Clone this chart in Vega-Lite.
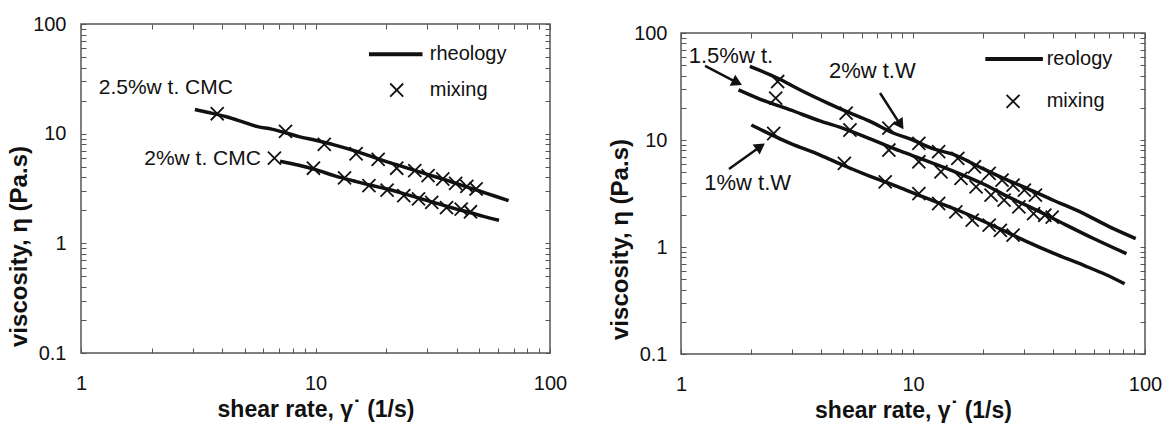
{
  "$schema": "https://vega.github.io/schema/vega-lite/v6.json",
  "padding": {"left": 6, "top": 13, "right": 0, "bottom": 0},
  "spacing": 39,
  "datasets": {
    "leftCurves": [
      {"series": "2.5%", "x": 3.06, "y": 16.6}, {"series": "2.5%", "x": 3.5, "y": 15.6}, {"series": "2.5%", "x": 4.2, "y": 14.2},
      {"series": "2.5%", "x": 5, "y": 12.6}, {"series": "2.5%", "x": 5.67, "y": 11.6}, {"series": "2.5%", "x": 6.5, "y": 11.0},
      {"series": "2.5%", "x": 7.45, "y": 10.2}, {"series": "2.5%", "x": 8.5, "y": 9.4}, {"series": "2.5%", "x": 10, "y": 8.7},
      {"series": "2.5%", "x": 12, "y": 7.9}, {"series": "2.5%", "x": 14.6, "y": 7.0}, {"series": "2.5%", "x": 18.5, "y": 5.9},
      {"series": "2.5%", "x": 24.3, "y": 4.9}, {"series": "2.5%", "x": 30, "y": 4.25}, {"series": "2.5%", "x": 35, "y": 3.85},
      {"series": "2.5%", "x": 41.8, "y": 3.4}, {"series": "2.5%", "x": 50, "y": 3.0}, {"series": "2.5%", "x": 58, "y": 2.7},
      {"series": "2.5%", "x": 66.6, "y": 2.45},
      {"series": "2%", "x": 7.06, "y": 5.61}, {"series": "2%", "x": 8.5, "y": 5.15}, {"series": "2%", "x": 10, "y": 4.7},
      {"series": "2%", "x": 12, "y": 4.15}, {"series": "2%", "x": 14.6, "y": 3.7}, {"series": "2%", "x": 17, "y": 3.4},
      {"series": "2%", "x": 20.2, "y": 3.13}, {"series": "2%", "x": 25, "y": 2.75}, {"series": "2%", "x": 30, "y": 2.45},
      {"series": "2%", "x": 34.9, "y": 2.23}, {"series": "2%", "x": 40, "y": 2.05}, {"series": "2%", "x": 45, "y": 1.92},
      {"series": "2%", "x": 52, "y": 1.76}, {"series": "2%", "x": 60.6, "y": 1.62}
    ],
    "leftMarks": [
      {"series": "2.5%", "x": 3.81, "y": 15.2}, {"series": "2.5%", "x": 7.45, "y": 10.5}, {"series": "2.5%", "x": 10.9, "y": 8.0},
      {"series": "2.5%", "x": 14.9, "y": 6.56}, {"series": "2.5%", "x": 18.5, "y": 5.82}, {"series": "2.5%", "x": 22.2, "y": 4.84},
      {"series": "2.5%", "x": 26.5, "y": 4.6}, {"series": "2.5%", "x": 30.2, "y": 4.15}, {"series": "2.5%", "x": 34.9, "y": 3.86},
      {"series": "2.5%", "x": 39.6, "y": 3.52}, {"series": "2.5%", "x": 44.2, "y": 3.31}, {"series": "2.5%", "x": 48.4, "y": 3.13},
      {"series": "2%", "x": 6.68, "y": 5.98}, {"series": "2%", "x": 9.8, "y": 4.84}, {"series": "2%", "x": 13.3, "y": 3.95},
      {"series": "2%", "x": 16.9, "y": 3.36}, {"series": "2%", "x": 20.2, "y": 3.06}, {"series": "2%", "x": 23.8, "y": 2.72},
      {"series": "2%", "x": 27.5, "y": 2.54}, {"series": "2%", "x": 31.3, "y": 2.36}, {"series": "2%", "x": 36.2, "y": 2.12},
      {"series": "2%", "x": 41.8, "y": 2.05}, {"series": "2%", "x": 45.8, "y": 1.94}
    ],
    "leftLabels": [
      {"x": 1.19, "y": 26.1, "text": "2.5%w t. CMC"},
      {"x": 1.86, "y": 5.87, "text": "2%w t. CMC"}
    ],
    "leftLegendText": [
      {"x": 30.7, "y": 53.1, "text": "rheology"},
      {"x": 30.7, "y": 25.0, "text": "mixing"}
    ],
    "leftLegendLine": [{"x": 16.9, "x2": 28.6, "y": 53.1}],
    "leftLegendMark": [{"x": 22.2, "y": 25.0}],
    "rightCurves": [
      {"series": "2W", "x": 1.98, "y": 48.7}, {"series": "2W", "x": 2.6, "y": 38}, {"series": "2W", "x": 3.3, "y": 29},
      {"series": "2W", "x": 4.29, "y": 22.1}, {"series": "2W", "x": 5.15, "y": 18.5}, {"series": "2W", "x": 6.5, "y": 15},
      {"series": "2W", "x": 8.32, "y": 11.5}, {"series": "2W", "x": 10, "y": 10}, {"series": "2W", "x": 12, "y": 8.4},
      {"series": "2W", "x": 15, "y": 7.3}, {"series": "2W", "x": 20, "y": 5.4}, {"series": "2W", "x": 25, "y": 4.3},
      {"series": "2W", "x": 31.3, "y": 3.5}, {"series": "2W", "x": 40, "y": 2.75}, {"series": "2W", "x": 54.5, "y": 2.05},
      {"series": "2W", "x": 70, "y": 1.55}, {"series": "2W", "x": 91.2, "y": 1.2},
      {"series": "1.5W", "x": 1.77, "y": 29.4}, {"series": "1.5W", "x": 2.2, "y": 24}, {"series": "1.5W", "x": 2.96, "y": 19.1},
      {"series": "1.5W", "x": 4, "y": 15}, {"series": "1.5W", "x": 4.97, "y": 12.9}, {"series": "1.5W", "x": 6.5, "y": 10.3},
      {"series": "1.5W", "x": 8.79, "y": 7.9}, {"series": "1.5W", "x": 11, "y": 6.6}, {"series": "1.5W", "x": 15, "y": 5.1},
      {"series": "1.5W", "x": 20, "y": 3.9}, {"series": "1.5W", "x": 26.1, "y": 2.9}, {"series": "1.5W", "x": 35, "y": 2.15},
      {"series": "1.5W", "x": 45.3, "y": 1.62}, {"series": "1.5W", "x": 60, "y": 1.2}, {"series": "1.5W", "x": 83.2, "y": 0.866},
      {"series": "1W", "x": 2.01, "y": 13.8}, {"series": "1W", "x": 2.96, "y": 9.3}, {"series": "1W", "x": 4, "y": 7.2},
      {"series": "1W", "x": 4.97, "y": 5.84}, {"series": "1W", "x": 6.5, "y": 4.6}, {"series": "1W", "x": 8.63, "y": 3.65},
      {"series": "1W", "x": 11, "y": 2.95}, {"series": "1W", "x": 15, "y": 2.29}, {"series": "1W", "x": 20, "y": 1.75},
      {"series": "1W", "x": 25, "y": 1.4}, {"series": "1W", "x": 31.3, "y": 1.11}, {"series": "1W", "x": 40, "y": 0.88},
      {"series": "1W", "x": 54.5, "y": 0.673}, {"series": "1W", "x": 68, "y": 0.55}, {"series": "1W", "x": 81.7, "y": 0.453}
    ],
    "rightMarks": [
      {"series": "2W", "x": 2.61, "y": 35.2}, {"series": "2W", "x": 5.15, "y": 17.8}, {"series": "2W", "x": 7.87, "y": 12.9},
      {"series": "2W", "x": 10.6, "y": 9.3}, {"series": "2W", "x": 12.9, "y": 7.78}, {"series": "2W", "x": 15.6, "y": 6.73},
      {"series": "2W", "x": 18.4, "y": 5.62}, {"series": "2W", "x": 21.3, "y": 4.87}, {"series": "2W", "x": 24.2, "y": 4.22},
      {"series": "2W", "x": 27, "y": 3.79}, {"series": "2W", "x": 30.2, "y": 3.4}, {"series": "2W", "x": 33.7, "y": 3.05},
      {"series": "1.5W", "x": 2.56, "y": 24.6}, {"series": "1.5W", "x": 5.35, "y": 12.4}, {"series": "1.5W", "x": 7.87, "y": 8.06},
      {"series": "1.5W", "x": 10.6, "y": 6.26}, {"series": "1.5W", "x": 13.2, "y": 5.05}, {"series": "1.5W", "x": 16.1, "y": 4.37},
      {"series": "1.5W", "x": 18.7, "y": 3.65}, {"series": "1.5W", "x": 21.7, "y": 3.05}, {"series": "1.5W", "x": 24.7, "y": 2.74},
      {"series": "1.5W", "x": 28.6, "y": 2.37}, {"series": "1.5W", "x": 33.1, "y": 2.05}, {"series": "1.5W", "x": 37, "y": 1.98},
      {"series": "1.5W", "x": 39.8, "y": 1.9},
      {"series": "1W", "x": 2.51, "y": 11.5}, {"series": "1W", "x": 5.06, "y": 6.04}, {"series": "1W", "x": 7.59, "y": 4.06},
      {"series": "1W", "x": 10.6, "y": 3.16}, {"series": "1W", "x": 12.9, "y": 2.55}, {"series": "1W", "x": 15.3, "y": 2.13},
      {"series": "1W", "x": 18, "y": 1.78}, {"series": "1W", "x": 21.3, "y": 1.6}, {"series": "1W", "x": 23.8, "y": 1.43},
      {"series": "1W", "x": 27, "y": 1.29}
    ],
    "rightLabels": [
      {"x": 1.08, "y": 60.9, "text": "1.5%w t."},
      {"x": 4.34, "y": 44.2, "text": "2%w t.W"},
      {"x": 1.26, "y": 3.96, "text": "1%w t.W"}
    ],
    "rightLegendText": [
      {"x": 37.7, "y": 57.2, "text": "reology"},
      {"x": 37.7, "y": 23.0, "text": "mixing"}
    ],
    "rightArrows": [
      {"id": "a", "x": 1.27, "y": 49.2, "x2": 1.72, "y2": 35.0},
      {"id": "b", "x": 7.21, "y": 27.5, "x2": 8.75, "y2": 14.3},
      {"id": "c", "x": 1.61, "y": 5.36, "x2": 2.17, "y2": 8.5}
    ],
    "rightLegendLine": [{"x": 20.5, "x2": 36.3, "y": 57.2}],
    "rightLegendMark": [{"x": 27.0, "y": 23.0}],
    "empty": [{}]
  },
  "hconcat": [
    {
      "width": 469,
      "height": 329,
      "resolve": {"axis": {"x": "independent", "y": "independent"}},
      "layer": [
        {
          "data": {"name": "leftCurves"},
          "mark": {"type": "line", "color": "#111", "strokeWidth": 3.5, "interpolate": "monotone"},
          "encoding": {
            "x": {"field": "x", "type": "quantitative", "scale": {"type": "log", "domain": [1, 100], "nice": false},
              "axis": {"orient": "bottom", "values": [1,2,3,4,5,6,7,8,9,10,20,30,40,50,60,70,80,90,100], "format": "~g",
                "labelExpr": "datum.value == 1 || datum.value == 10 || datum.value == 100 ? datum.label : ''",
                "labelPadding": 25, "titlePadding": 5, "title": "shear rate, γ˙ (1/s)", "titleFontSize": 23, "titleLetterSpacing": 2}},
            "y": {"field": "y", "type": "quantitative", "scale": {"type": "log", "domain": [0.1, 100], "nice": false},
              "axis": {"orient": "left", "values": [0.1,0.2,0.3,0.4,0.5,0.6,0.7,0.8,0.9,1,2,3,4,5,6,7,8,9,10,20,30,40,50,60,70,80,90,100], "format": "~g",
                "labelExpr": "datum.value == 0.1 || datum.value == 1 || datum.value == 10 || datum.value == 100 ? datum.label : ''",
                "labelPadding": 20, "titlePadding": 1, "title": "viscosity,   η   (Pa.s)", "titleFontSize": 24, "titleLetterSpacing": 3.5, "titleY": 222}},
            "detail": {"field": "series"}
          }
        },
        {
          "data": {"name": "leftMarks"},
          "mark": {"type": "point", "shape": "M-1,-1L1,1M-1,1L1,-1", "filled": false, "stroke": "#111", "strokeWidth": 1.8, "size": 170, "opacity": 1},
          "encoding": {
            "x": {"field": "x", "type": "quantitative", "scale": {"type": "log", "domain": [1, 100], "nice": false},
              "axis": {"orient": "top", "values": [1,2,3,4,5,6,7,8,9,10,20,30,40,50,60,70,80,90,100], "labels": false, "title": null}},
            "y": {"field": "y", "type": "quantitative", "scale": {"type": "log", "domain": [0.1, 100], "nice": false},
              "axis": {"orient": "right", "values": [0.1,0.2,0.3,0.4,0.5,0.6,0.7,0.8,0.9,1,2,3,4,5,6,7,8,9,10,20,30,40,50,60,70,80,90,100], "labels": false, "title": null}}
          }
        },
        {
          "data": {"name": "leftLegendLine"},
          "mark": {"type": "rule", "color": "#111", "strokeWidth": 4},
          "encoding": {
            "x": {"field": "x", "type": "quantitative", "axis": null},
            "x2": {"field": "x2"},
            "y": {"field": "y", "type": "quantitative", "axis": null}
          }
        },
        {
          "data": {"name": "leftLegendMark"},
          "mark": {"type": "point", "shape": "M-1,-1L1,1M-1,1L1,-1", "filled": false, "stroke": "#111", "strokeWidth": 1.8, "size": 170, "opacity": 1},
          "encoding": {
            "x": {"field": "x", "type": "quantitative", "axis": null},
            "y": {"field": "y", "type": "quantitative", "axis": null}
          }
        },
        {
          "data": {"name": "leftLabels"},
          "mark": {"type": "text", "align": "left", "baseline": "middle", "font": "Liberation Sans", "fontSize": 21, "color": "#111"},
          "encoding": {
            "x": {"field": "x", "type": "quantitative", "axis": null},
            "y": {"field": "y", "type": "quantitative", "axis": null},
            "text": {"field": "text"}
          }
        },
        {
          "data": {"name": "leftLegendText"},
          "mark": {"type": "text", "align": "left", "baseline": "middle", "font": "Liberation Sans", "fontSize": 20, "color": "#111"},
          "encoding": {
            "x": {"field": "x", "type": "quantitative", "axis": null},
            "y": {"field": "y", "type": "quantitative", "axis": null},
            "text": {"field": "text"}
          }
        }
      ]
    },
    {
      "spacing": -6,
      "vconcat": [
        {
          "width": 464,
          "height": 1,
          "view": {"stroke": null},
          "data": {"name": "empty"},
          "mark": {"type": "point", "opacity": 0},
          "encoding": {}
        },
        {
          "width": 464,
          "height": 321,
          "resolve": {"axis": {"x": "independent", "y": "independent"}},
          "layer": [
            {
              "data": {"name": "rightCurves"},
              "mark": {"type": "line", "color": "#111", "strokeWidth": 3.5, "interpolate": "monotone"},
              "encoding": {
                "x": {"field": "x", "type": "quantitative", "scale": {"type": "log", "domain": [1, 100], "nice": false},
                  "axis": {"orient": "bottom", "values": [1,2,3,4,5,6,7,8,9,10,20,30,40,50,60,70,80,90,100], "format": "~g",
                    "labelExpr": "datum.value == 1 || datum.value == 10 || datum.value == 100 ? datum.label : ''",
                    "labelPadding": 25, "titlePadding": 5, "title": "shear rate, γ˙ (1/s)", "titleFontSize": 23, "titleLetterSpacing": 2}},
                "y": {"field": "y", "type": "quantitative", "scale": {"type": "log", "domain": [0.1, 100], "nice": false},
                  "axis": {"orient": "left", "values": [0.1,0.2,0.3,0.4,0.5,0.6,0.7,0.8,0.9,1,2,3,4,5,6,7,8,9,10,20,30,40,50,60,70,80,90,100], "format": "~g",
                    "labelExpr": "datum.value == 0.1 || datum.value == 1 || datum.value == 10 || datum.value == 100 ? datum.label : ''",
                    "labelPadding": 19, "titlePadding": 1, "title": "viscosity,   η   (Pa.s)", "titleFontSize": 24, "titleLetterSpacing": 3.5, "titleY": 206}},
                "detail": {"field": "series"}
              }
            },
            {
              "data": {"name": "rightMarks"},
              "mark": {"type": "point", "shape": "M-1,-1L1,1M-1,1L1,-1", "filled": false, "stroke": "#111", "strokeWidth": 1.8, "size": 170, "opacity": 1},
              "encoding": {
                "x": {"field": "x", "type": "quantitative", "scale": {"type": "log", "domain": [1, 100], "nice": false},
                  "axis": {"orient": "top", "values": [1,2,3,4,5,6,7,8,9,10,20,30,40,50,60,70,80,90,100], "labels": false, "title": null}},
                "y": {"field": "y", "type": "quantitative", "scale": {"type": "log", "domain": [0.1, 100], "nice": false},
                  "axis": {"orient": "right", "values": [0.1,0.2,0.3,0.4,0.5,0.6,0.7,0.8,0.9,1,2,3,4,5,6,7,8,9,10,20,30,40,50,60,70,80,90,100], "labels": false, "title": null}}
              }
            },
            {
              "data": {"name": "rightArrows"},
              "mark": {"type": "rule", "color": "#111", "strokeWidth": 2.5},
              "encoding": {
                "x": {"field": "x", "type": "quantitative", "axis": null},
                "x2": {"field": "x2"},
                "y": {"field": "y", "type": "quantitative", "axis": null},
                "y2": {"field": "y2"}
              }
            },
            {
              "data": {"name": "rightArrows"},
              "transform": [{"filter": "datum.id == 'a'"}],
              "mark": {"type": "point", "shape": "triangle", "filled": true, "color": "#111", "size": 150, "opacity": 1, "angle": 117},
              "encoding": {
                "x": {"field": "x2", "type": "quantitative", "axis": null},
                "y": {"field": "y2", "type": "quantitative", "axis": null}
              }
            },
            {
              "data": {"name": "rightArrows"},
              "transform": [{"filter": "datum.id == 'b'"}],
              "mark": {"type": "point", "shape": "triangle", "filled": true, "color": "#111", "size": 150, "opacity": 1, "angle": 146},
              "encoding": {
                "x": {"field": "x2", "type": "quantitative", "axis": null},
                "y": {"field": "y2", "type": "quantitative", "axis": null}
              }
            },
            {
              "data": {"name": "rightArrows"},
              "transform": [{"filter": "datum.id == 'c'"}],
              "mark": {"type": "point", "shape": "triangle", "filled": true, "color": "#111", "size": 150, "opacity": 1, "angle": 55},
              "encoding": {
                "x": {"field": "x2", "type": "quantitative", "axis": null},
                "y": {"field": "y2", "type": "quantitative", "axis": null}
              }
            },
            {
              "data": {"name": "rightLegendLine"},
              "mark": {"type": "rule", "color": "#111", "strokeWidth": 4},
              "encoding": {
                "x": {"field": "x", "type": "quantitative", "axis": null},
                "x2": {"field": "x2"},
                "y": {"field": "y", "type": "quantitative", "axis": null}
              }
            },
            {
              "data": {"name": "rightLegendMark"},
              "mark": {"type": "point", "shape": "M-1,-1L1,1M-1,1L1,-1", "filled": false, "stroke": "#111", "strokeWidth": 1.8, "size": 170, "opacity": 1},
              "encoding": {
                "x": {"field": "x", "type": "quantitative", "axis": null},
                "y": {"field": "y", "type": "quantitative", "axis": null}
              }
            },
            {
              "data": {"name": "rightLabels"},
              "mark": {"type": "text", "align": "left", "baseline": "middle", "font": "Liberation Sans", "fontSize": 22, "color": "#111"},
              "encoding": {
                "x": {"field": "x", "type": "quantitative", "axis": null},
                "y": {"field": "y", "type": "quantitative", "axis": null},
                "text": {"field": "text"}
              }
            },
            {
              "data": {"name": "rightLegendText"},
              "mark": {"type": "text", "align": "left", "baseline": "middle", "font": "Liberation Sans", "fontSize": 20, "color": "#111"},
              "encoding": {
                "x": {"field": "x", "type": "quantitative", "axis": null},
                "y": {"field": "y", "type": "quantitative", "axis": null},
                "text": {"field": "text"}
              }
            }
          ]
        }
      ]
    }
  ],
  "config": {
    "background": "white",
    "view": {"stroke": "#555", "strokeWidth": 1.5},
    "axis": {
      "labelFont": "Liberation Sans", "labelFontSize": 20, "labelColor": "#111", "labelOverlap": false, "labelBound": false, "labelFlush": false,
      "titleFont": "Liberation Sans", "titleFontSize": 22, "titleFontWeight": "bold", "titleColor": "#111",
      "grid": false, "domain": false, "ticks": true, "tickSize": -5, "tickColor": "#555", "tickWidth": 1
    }
  }
}
